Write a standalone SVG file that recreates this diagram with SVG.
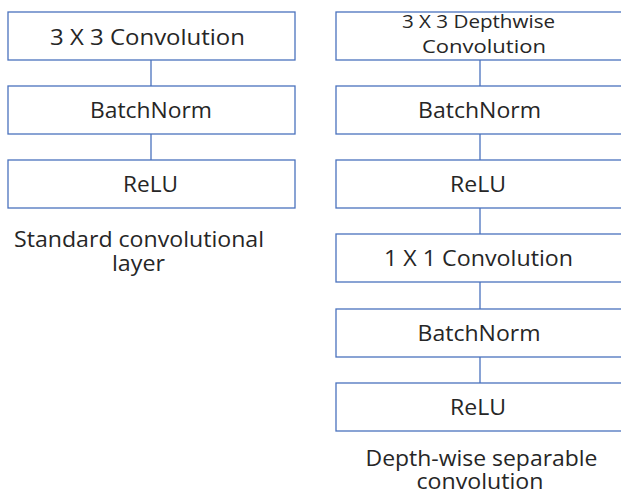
<svg xmlns="http://www.w3.org/2000/svg" width="621" height="494" viewBox="0 0 621 494">
  <style>
    .box { fill: #ffffff; stroke: #4a72be; stroke-width: 1.3; }
    .link { stroke: #4a72be; stroke-width: 1.3; fill: none; }
    .lbl { font-family: "Open Sans", "Liberation Sans", sans-serif; font-size: 21px; fill: #262626; text-anchor: middle; }
    .small { font-size: 18.5px; }
  </style>
  <rect width="621" height="494" fill="#ffffff"/>

  <!-- connectors -->
  <g id="connectors">
    <line class="link" x1="151" y1="60" x2="151" y2="86"/>
    <line class="link" x1="151" y1="134" x2="151" y2="160"/>
    <line class="link" x1="480" y1="60" x2="480" y2="86"/>
    <line class="link" x1="480" y1="134" x2="480" y2="160"/>
    <line class="link" x1="480" y1="208" x2="480" y2="234"/>
    <line class="link" x1="480" y1="282" x2="480" y2="309"/>
    <line class="link" x1="480" y1="357" x2="480" y2="383"/>
  </g>

  <!-- standard convolutional layer -->
  <g id="std-conv">
    <rect class="box" x="8" y="12" width="287" height="48"/>
    <text class="lbl" x="147.5" y="44.5" textLength="195" lengthAdjust="spacingAndGlyphs">3 X 3 Convolution</text>
  </g>
  <g id="std-bn">
    <rect class="box" x="8" y="86" width="287" height="48"/>
    <text class="lbl" x="151" y="117.5" textLength="122" lengthAdjust="spacingAndGlyphs">BatchNorm</text>
  </g>
  <g id="std-relu">
    <rect class="box" x="8" y="160" width="287" height="48"/>
    <text class="lbl" x="150.5" y="191.5" textLength="55" lengthAdjust="spacingAndGlyphs">ReLU</text>
  </g>
  <g id="std-caption">
    <text class="lbl" x="139" y="246.5" textLength="250" lengthAdjust="spacingAndGlyphs">Standard convolutional</text>
    <text class="lbl" x="138.5" y="270.5" textLength="53" lengthAdjust="spacingAndGlyphs">layer</text>
  </g>

  <!-- depth-wise separable convolution -->
  <g id="dw-conv">
    <rect class="box" x="336" y="12" width="287" height="48"/>
    <text class="lbl small" x="478.5" y="27.5" textLength="153" lengthAdjust="spacingAndGlyphs">3 X 3 Depthwise</text>
    <text class="lbl small" x="484" y="53" textLength="124" lengthAdjust="spacingAndGlyphs">Convolution</text>
  </g>
  <g id="dw-bn">
    <rect class="box" x="336" y="86" width="287" height="48"/>
    <text class="lbl" x="479.5" y="117.5" textLength="123" lengthAdjust="spacingAndGlyphs">BatchNorm</text>
  </g>
  <g id="dw-relu">
    <rect class="box" x="336" y="160" width="287" height="48"/>
    <text class="lbl" x="478" y="191.5" textLength="56" lengthAdjust="spacingAndGlyphs">ReLU</text>
  </g>
  <g id="pw-conv">
    <rect class="box" x="336" y="234" width="287" height="48"/>
    <text class="lbl" x="478.5" y="265.5" textLength="189" lengthAdjust="spacingAndGlyphs">1 X 1 Convolution</text>
  </g>
  <g id="pw-bn">
    <rect class="box" x="336" y="309" width="287" height="48"/>
    <text class="lbl" x="479" y="340.5" textLength="123" lengthAdjust="spacingAndGlyphs">BatchNorm</text>
  </g>
  <g id="pw-relu">
    <rect class="box" x="336" y="383" width="287" height="48"/>
    <text class="lbl" x="478" y="414.5" textLength="56" lengthAdjust="spacingAndGlyphs">ReLU</text>
  </g>
  <g id="dw-caption">
    <text class="lbl" x="481.5" y="466" textLength="232" lengthAdjust="spacingAndGlyphs">Depth-wise separable</text>
    <text class="lbl" x="480" y="489" textLength="127" lengthAdjust="spacingAndGlyphs">convolution</text>
  </g>
</svg>
